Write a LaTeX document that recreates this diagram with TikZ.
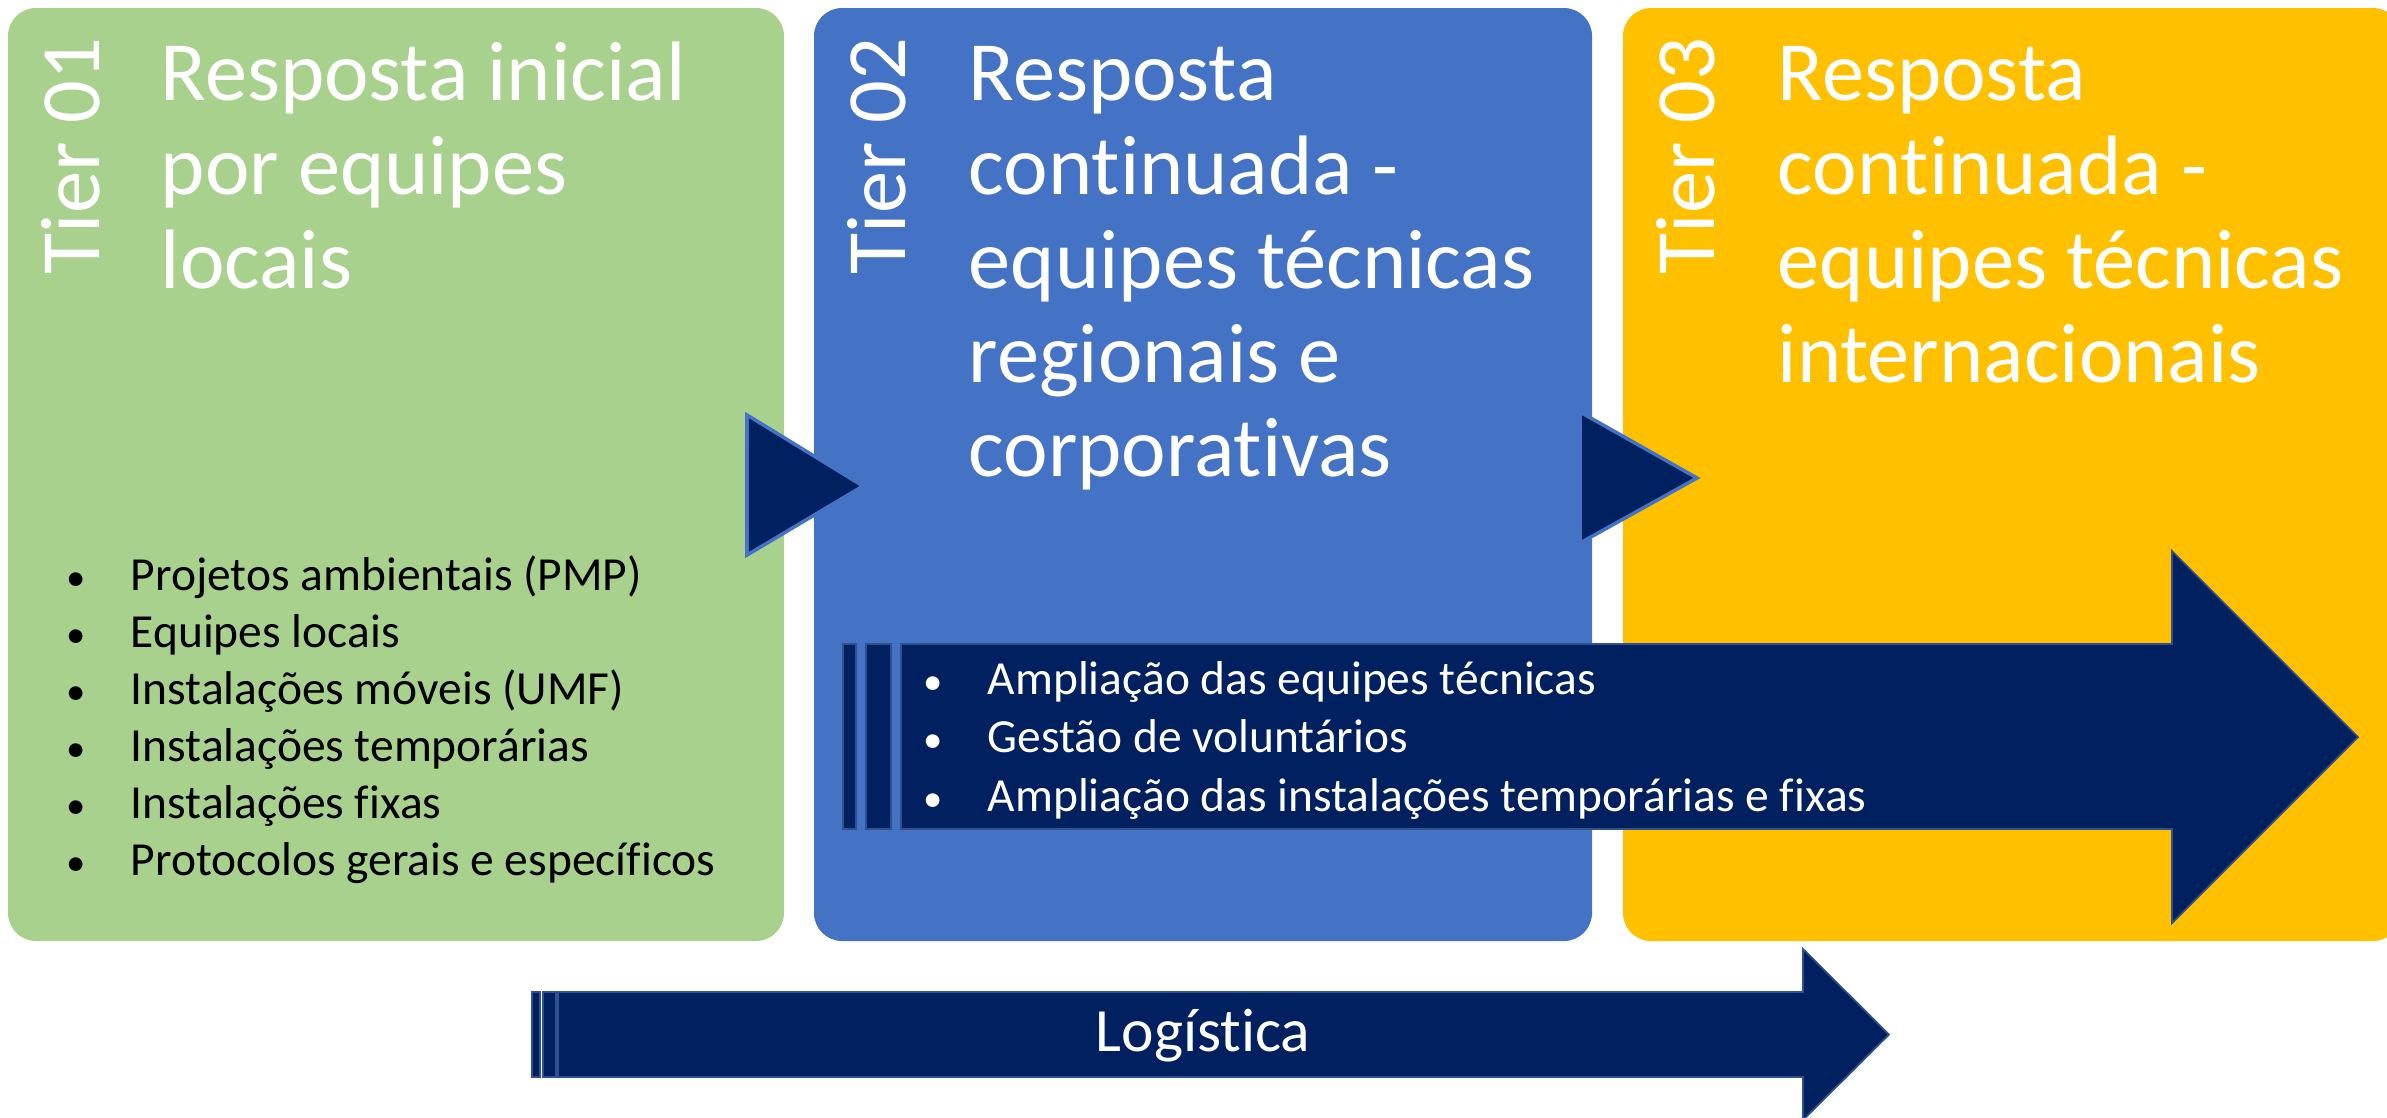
\documentclass[tikz,border=0pt]{standalone}
\usepackage{fontspec}
\setmainfont{Carlito}[Ligatures=NoCommon]
\definecolor{tiergreen}{HTML}{A9D18E}
\definecolor{tierblue}{HTML}{4472C4}
\definecolor{tieryellow}{HTML}{FFC000}
\definecolor{navy}{HTML}{002060}
\definecolor{navyedge}{HTML}{2F528F}

\begin{document}
\begin{tikzpicture}[x=0.01cm,y=-0.01cm,
  tier box/.style={fill=#1,rounded corners=0.28cm},
  tier label/.style={rotate=90,anchor=base west,inner sep=0pt,text=white,font=\fontsize{24}{26.7}\selectfont},
  heading/.style={anchor=base west,inner sep=0pt,align=left,text=white,font=\fontsize{24}{26.7}\selectfont},
  item list/.style={anchor=base west,inner sep=0pt,align=left,font=\fontsize{13.5}{#1}\selectfont},
  block arrow/.style={draw=navyedge,fill=navy,line width=0.5pt},
  pointer/.style={draw=tierblue,fill=navy,line width=1pt}]
\newcommand{\itm}{\makebox[0.64cm][l]{{\fontsize{11}{11}\selectfont\textbullet}}}

\clip (0,0) rectangle (2387,1117);

% the three tiers
\fill[tier box=tiergreen]  (8,8)    rectangle (784,941);
\fill[tier box=tierblue]   (814,8)  rectangle (1592,941);
\fill[tier box=tieryellow] (1623,8) rectangle (2401,941);

\node[tier label] (tier1) at (99,275)   {Tier 01};
\node[tier label] (tier2) at (905,275)  {Tier 02};
\node[tier label] (tier3) at (1714,275) {Tier 03};

% headings sit on the baseline of their last line
\node[heading] (head1) at (160,288)  {Resposta inicial\\por equipes\\locais};
\node[heading] (head2) at (968,476)  {Resposta\\continuada -\\equipes técnicas\\regionais e\\corporativas};
\node[heading] (head3) at (1777,382) {Resposta\\continuada -\\equipes técnicas\\internacionais};

% pointers between tiers
\filldraw[pointer] (747,415)  -- (863,486)  -- (747,555)  -- cycle;
\filldraw[pointer] (1580,412) -- (1697,478) -- (1580,543) -- cycle;

\node[item list=16.2] (list1) at (66,875) {\itm Projetos ambientais (PMP)\\
  \itm Equipes locais\\
  \itm Instalações móveis (UMF)\\
  \itm Instalações temporárias\\
  \itm Instalações fixas\\
  \itm Protocolos gerais e específicos};

% striped arrow across tiers 2 and 3
\filldraw[block arrow] (843,644) rectangle (856,829);
\filldraw[block arrow] (866,644) rectangle (891,829);
\filldraw[block arrow] (901,644) -- (2172,644) -- (2172,551) -- (2358,737)
  -- (2172,923) -- (2172,829) -- (901,829) -- cycle;
\node[item list=16.6,text=white] (list2) at (923,811) {\itm Ampliação das equipes técnicas\\
  \itm Gestão de voluntários\\
  \itm Ampliação das instalações temporárias e fixas};

% logistics arrow
\filldraw[block arrow] (532,992) rectangle (540,1077);
\filldraw[block arrow] (543,992) rectangle (556,1077);
\filldraw[block arrow] (558,992) -- (1803,992) -- (1803,949) -- (1889,1034.5)
  -- (1803,1120) -- (1803,1077) -- (558,1077) -- cycle;
\node[text=white,font=\fontsize{17.5}{21}\selectfont] (logistica) at (1203,1036) {Logística};

\end{tikzpicture}
\end{document}
